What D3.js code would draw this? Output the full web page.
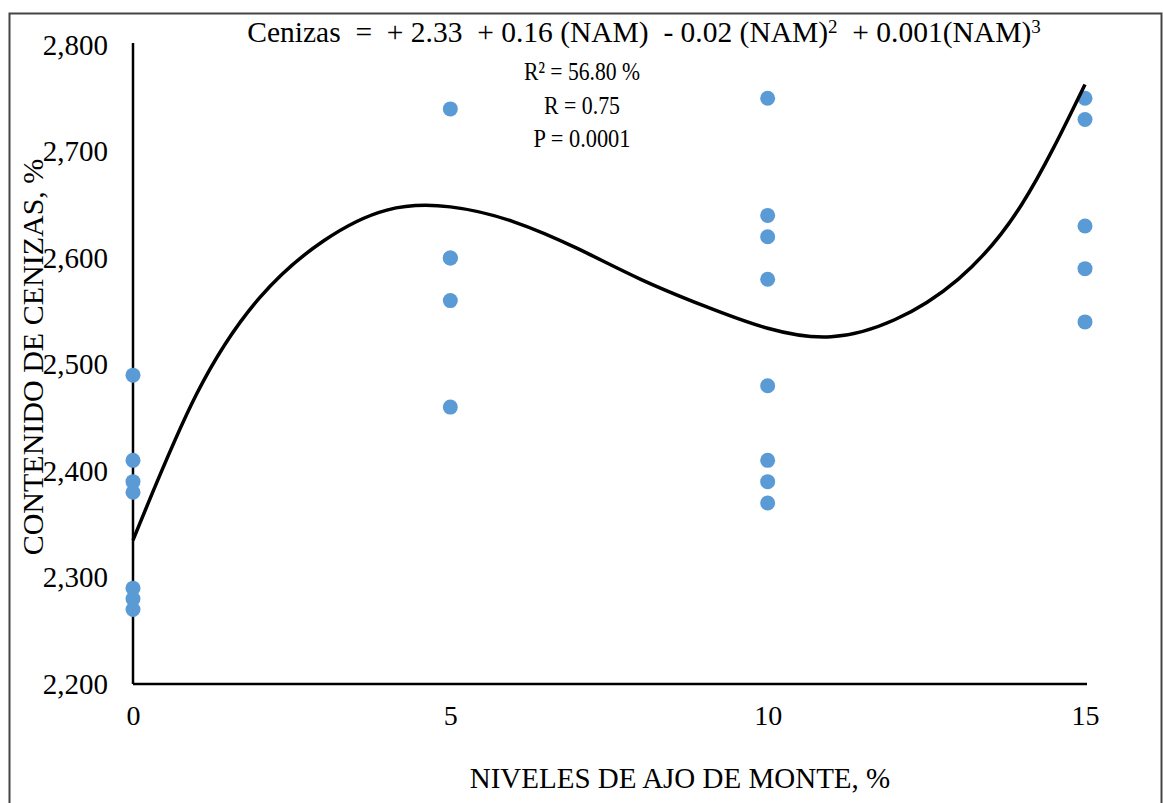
<!DOCTYPE html>
<html>
<head>
  <meta charset="utf-8">
  <title>Contenido de cenizas</title>
  <script src="https://cdn.jsdelivr.net/npm/d3@7"></script>
  <style>
    body { margin: 0; background: #fff; }
    text { font-family: "Liberation Serif", "Times New Roman", serif; fill: #000; }
  </style>
</head>
<body>
<script>
  // data
  var levels = [0, 5, 10, 15];
  var ash0  = [2.49, 2.41, 2.39, 2.38, 2.29, 2.28, 2.27];
  var ash5  = [2.74, 2.60, 2.60, 2.56, 2.46];
  var ash10 = [2.75, 2.64, 2.62, 2.58, 2.48, 2.41, 2.39, 2.37];
  var ash15 = [2.75, 2.73, 2.63, 2.59, 2.54];
  var yTicks = [2.2, 2.3, 2.4, 2.5, 2.6, 2.7, 2.8];
  var xTicks = [0, 5, 10, 15];

  // trend curve, points
  var trendX = [0, 1, 2, 3, 4, 5, 6, 7, 8, 9, 10, 11, 12, 13, 14, 15];
  var trendY = [2.335, 2.472, 2.563, 2.616, 2.645, 2.648, 2.634, 2.609, 2.580,
                2.555, 2.534, 2.526, 2.542, 2.580, 2.650, 2.763];

  var width = 1163, height = 803;

  var svg = d3.select("body").append("svg")
      .attr("width", width)
      .attr("height", height);

  // outer frame
  svg.append("rect")
      .attr("x", 9.5).attr("y", 13.5)
      .attr("width", 1152).attr("height", 800)
      .attr("fill", "none")
      .attr("stroke", "#444")
      .attr("stroke-width", 2);

  var x = d3.scaleLinear().domain([0, 15]).range([133, 1085]);
  var y = d3.scaleLinear().domain([2.2, 2.8]).range([684, 45]);

  // y axis
  var yAxis = svg.append("g")
      .attr("transform", "translate(133,0)")
      .call(d3.axisLeft(y).tickValues(yTicks).tickSize(0).tickPadding(25)
        .tickFormat(function (d) { return d3.format(",")(Math.round(d * 1000)); }));
  yAxis.select(".domain").attr("d", "M0," + (y(2.8) - 2) + "V" + y(2.2))
      .attr("stroke", "#000").attr("stroke-width", 2.5);
  yAxis.selectAll("text")
      .style("font-size", "29px");

  // x axis
  var xAxis = svg.append("g")
      .attr("transform", "translate(0,684)")
      .call(d3.axisBottom(x).tickValues(xTicks).tickSize(0).tickPadding(21));
  xAxis.select(".domain").attr("d", "M" + x(0) + ",0H" + (x(15) + 2))
      .attr("stroke", "#000").attr("stroke-width", 2.5);
  xAxis.selectAll("text")
      .style("font-size", "28px");

  // points
  var points = [];
  [ash0, ash5, ash10, ash15].forEach(function (vals, i) {
    vals.forEach(function (v) { points.push({ lvl: levels[i], v: v }); });
  });

  svg.append("g").selectAll("circle")
      .data(points)
      .enter()
      .append("circle")
        .attr("cx", function (d) { return x(d.lvl); })
        .attr("cy", function (d) { return y(d.v); })
        .attr("r", 7.5)
        .attr("fill", "#5B9BD5");

  // trend line
  var line = d3.line()
      .x(function (d) { return x(d[0]); })
      .y(function (d) { return y(d[1]); })
      .curve(d3.curveNatural);

  svg.append("path")
      .datum(d3.zip(trendX, trendY))
      .attr("d", line)
      .attr("fill", "none")
      .attr("stroke", "#000")
      .attr("stroke-width", 3.5);

  // equation block
  var eq = svg.append("text")
      .attr("x", 644).attr("y", 42)
      .attr("text-anchor", "middle")
      .style("font-size", "29.5px")
      .style("white-space", "pre");
  eq.append("tspan").text("Cenizas  =  + 2.33  + 0.16 (NAM)  - 0.02 (NAM)");
  eq.append("tspan").attr("dy", -9).style("font-size", "19px").text("2");
  eq.append("tspan").attr("dy", 9).text("  + 0.001(NAM)");
  eq.append("tspan").attr("dy", -9).style("font-size", "19px").text("3");

  var stats = ["R\u00B2 = 56.80 %", "R = 0.75", "P = 0.0001"];
  var statWidths = [116, 76, 97];
  svg.selectAll("text.stat")
      .data(stats)
      .enter()
      .append("text")
        .attr("class", "stat")
        .attr("x", 582)
        .attr("y", function (d, i) { return 80 + i * 33.5; })
        .attr("text-anchor", "middle")
        .attr("textLength", function (d, i) { return statWidths[i]; })
        .attr("lengthAdjust", "spacingAndGlyphs")
        .style("font-size", "26px")
        .text(function (d) { return d; });

  // axis titles
  svg.append("text")
      .attr("x", 680).attr("y", 788)
      .attr("text-anchor", "middle")
      .style("font-size", "29px")
      .text("NIVELES DE AJO DE MONTE, %");

  svg.append("text")
      .attr("transform", "translate(43,357) rotate(-90)")
      .attr("text-anchor", "middle")
      .style("font-size", "30px")
      .text("CONTENIDO DE CENIZAS, %");
</script>
</body>
</html>
